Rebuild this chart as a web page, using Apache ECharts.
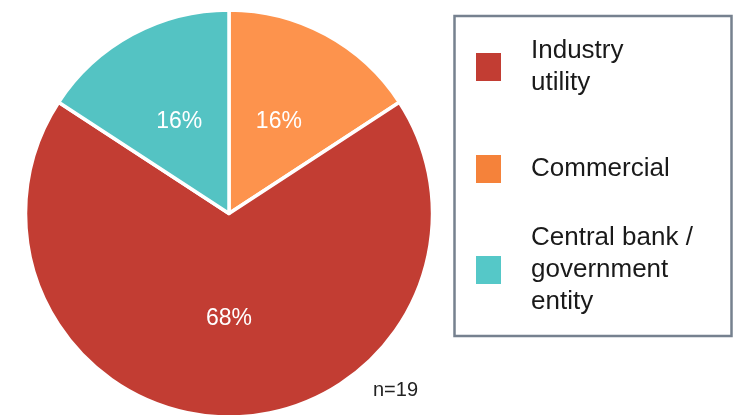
<!DOCTYPE html>
<html>
<head>
<meta charset="utf-8">
<style>
  html, body { margin: 0; padding: 0; background: #fff; }
  #chart { width: 734px; height: 415px; }
</style>
<script src="https://cdn.jsdelivr.net/npm/echarts@6/dist/echarts.min.js"></script>
</head>
<body>
<div id="chart"></div>
<script>
// Respondent types (legend order) and their counts, n = 19
const categories = ['Industry utility', 'Commercial', 'Central bank / government entity'];
const counts = [13, 3, 3];
// How each legend entry wraps
const legendText = ['Industry\nutility', 'Commercial', 'Central bank /\ngovernment\nentity'];
// Clockwise drawing order of the slices, starting at 12 o'clock
const sliceOrder = ['Commercial', 'Industry utility', 'Central bank / government entity'];
const sampleNote = 'n=19';

const sliceColors = {
  'Industry utility': '#C23D33',
  'Commercial': '#FD934D',
  'Central bank / government entity': '#54C3C3'
};
const keyColors = {
  'Industry utility': '#C23D33',
  'Commercial': '#F5823A',
  'Central bank / government entity': '#55C8C8'
};

const FONT = "'Liberation Sans', Arial, sans-serif";

const pieData = sliceOrder.map(name => ({
  name: name,
  value: counts[categories.indexOf(name)],
  itemStyle: { color: sliceColors[name] }
}));

// one key block per category, each centred on its colour swatch
const keyTops = [32, 150, 219];
const legends = categories.map((name, i) => ({
  show: true,
  orient: 'vertical',
  left: 474,
  top: keyTops[i],
  padding: 0,
  itemWidth: 27,
  itemHeight: 30,
  icon: 'rect',
  selectedMode: false,
  data: [{ name: name, itemStyle: { color: keyColors[name] } }],
  formatter: () => legendText[i],
  textStyle: {
    fontFamily: FONT,
    fontSize: 26,
    lineHeight: 32,
    color: '#1a1a1a',
    padding: [6, 0, 0, 24]
  }
}));

const chart = echarts.init(document.getElementById('chart'), null, { renderer: 'canvas' });
chart.setOption({
  animation: false,
  backgroundColor: '#ffffff',
  legend: legends,
  graphic: [
    {
      type: 'rect',
      z: 0,
      shape: { x: 454.5, y: 16, width: 277, height: 320 },
      style: { fill: 'none', stroke: '#76818F', lineWidth: 2.5 }
    },
    {
      type: 'text',
      x: 373,
      y: 390,
      style: {
        text: sampleNote,
        font: '20px ' + FONT,
        fill: '#222222',
        verticalAlign: 'middle'
      }
    }
  ],
  series: [{
    type: 'pie',
    center: [229, 213.5],
    radius: 203.5,
    startAngle: 90,
    clockwise: true,
    percentPrecision: 0,
    avoidLabelOverlap: false,
    itemStyle: { borderColor: '#ffffff', borderWidth: 3.5 },
    label: {
      show: true,
      position: 'inside',
      formatter: '{d}%',
      color: '#ffffff',
      fontFamily: FONT,
      fontSize: 23
    },
    labelLine: { show: false },
    emphasis: { disabled: true },
    data: pieData
  }]
});
</script>
</body>
</html>
